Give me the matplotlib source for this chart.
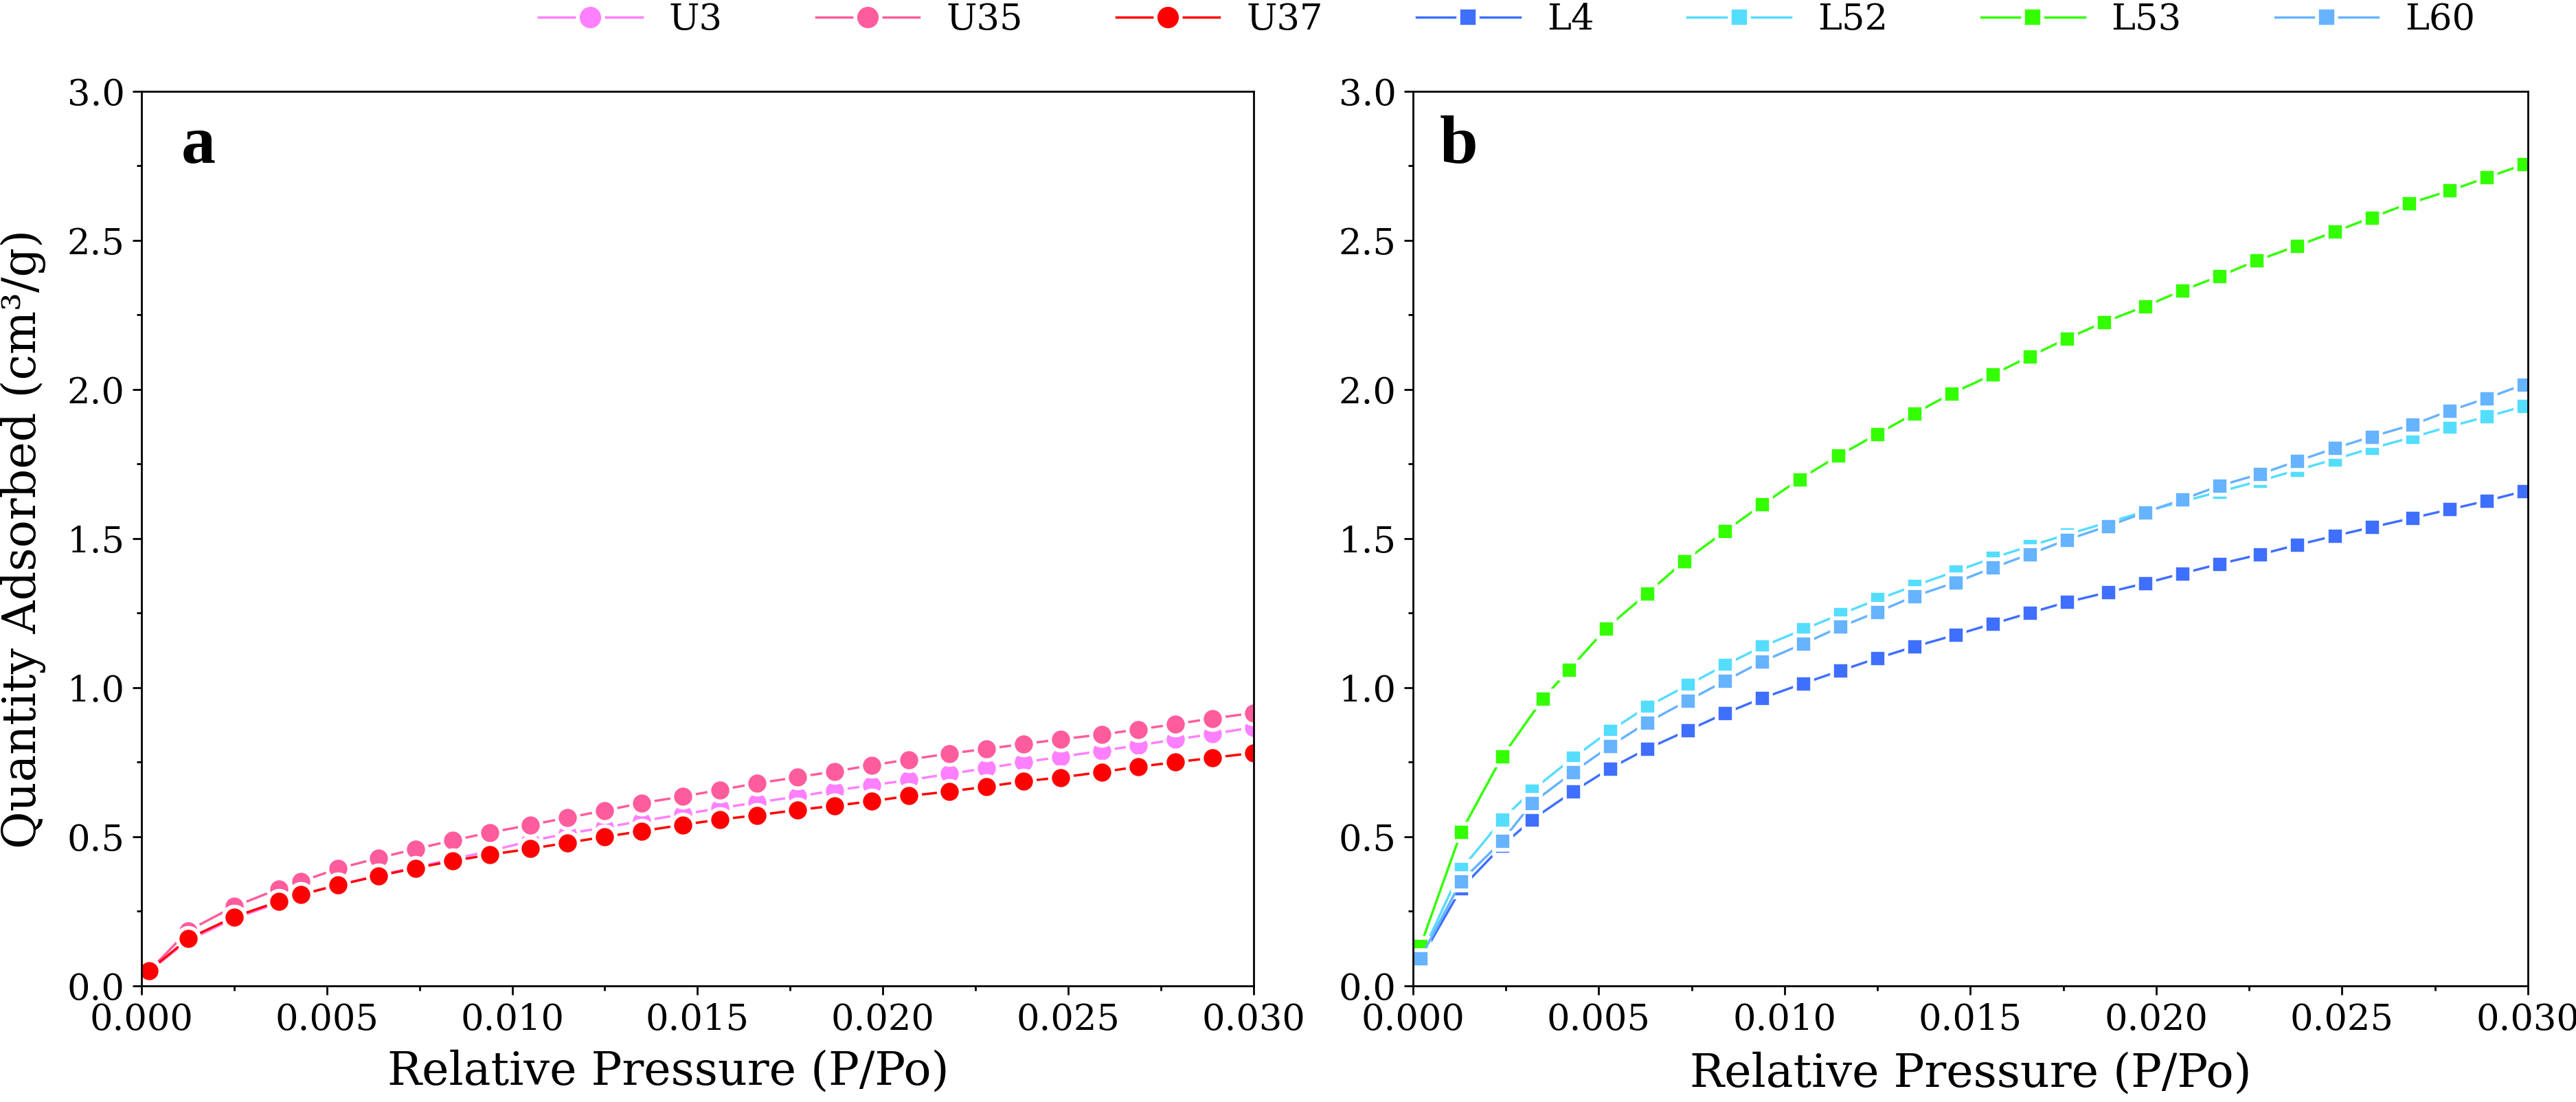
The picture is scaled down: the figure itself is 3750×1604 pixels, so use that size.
import matplotlib
matplotlib.use("Agg")
import matplotlib.pyplot as plt
from matplotlib.ticker import MultipleLocator, FormatStrFormatter

plt.rcParams["font.family"] = ["DejaVu Serif"]

# panel a: relative pressure and adsorbed quantity (cm3/g)
x_a = [0.0002, 0.00126, 0.0025, 0.0037, 0.0043, 0.0053, 0.0064, 0.0074, 0.0084, 0.0094,
       0.0105, 0.0115, 0.0125, 0.0135, 0.0146, 0.0156, 0.0166, 0.0177, 0.0187, 0.0197,
       0.0207, 0.0218, 0.0228, 0.0238, 0.0248, 0.0259, 0.0269, 0.0279, 0.0289, 0.0300]
u3 = [0.049, 0.152, 0.226, 0.278, 0.305, 0.338, 0.371, 0.398, 0.425, 0.452,
      0.486, 0.511, 0.531, 0.553, 0.575, 0.596, 0.615, 0.635, 0.655, 0.673,
      0.690, 0.711, 0.730, 0.750, 0.768, 0.788, 0.807, 0.826, 0.845, 0.867]
u35 = [0.049, 0.185, 0.266, 0.325, 0.350, 0.393, 0.429, 0.459, 0.488, 0.514,
       0.540, 0.564, 0.588, 0.613, 0.635, 0.657, 0.679, 0.700, 0.719, 0.740,
       0.759, 0.779, 0.795, 0.811, 0.827, 0.843, 0.860, 0.878, 0.897, 0.915]
u37 = [0.050, 0.158, 0.231, 0.283, 0.306, 0.338, 0.369, 0.395, 0.419, 0.440,
       0.460, 0.480, 0.500, 0.519, 0.540, 0.558, 0.572, 0.590, 0.604, 0.619,
       0.637, 0.652, 0.668, 0.686, 0.699, 0.717, 0.735, 0.750, 0.765, 0.781]

# panel b
x_b = [0.0002, 0.0013, 0.0024, 0.0032, 0.0043, 0.0053, 0.0063, 0.0074, 0.0084, 0.0094,
       0.0105, 0.0115, 0.0125, 0.0135, 0.0146, 0.0156, 0.0166, 0.0176, 0.0187, 0.0197,
       0.0207, 0.0217, 0.0228, 0.0238, 0.0248, 0.0258, 0.0269, 0.0279, 0.0289, 0.0299]
x_l53 = [0.0002, 0.0013, 0.0024, 0.0035, 0.0042, 0.0052, 0.0063, 0.0073, 0.0084, 0.0094,
         0.0104, 0.01145, 0.0125, 0.0135, 0.0145, 0.0156, 0.0166, 0.0176, 0.0186, 0.0197,
         0.0207, 0.0217, 0.0227, 0.0238, 0.0248, 0.0258, 0.0268, 0.0279, 0.0289, 0.0299]
l4 = [0.088, 0.327, 0.470, 0.557, 0.651, 0.729, 0.795, 0.857, 0.914, 0.965,
      1.014, 1.057, 1.099, 1.138, 1.177, 1.214, 1.251, 1.287, 1.320, 1.350,
      1.383, 1.415, 1.447, 1.479, 1.509, 1.538, 1.569, 1.598, 1.627, 1.659]
l52 = [0.097, 0.391, 0.557, 0.655, 0.764, 0.855, 0.936, 1.009, 1.076, 1.138,
       1.195, 1.246, 1.296, 1.342, 1.390, 1.435, 1.475, 1.514, 1.554, 1.591,
       1.624, 1.657, 1.694, 1.730, 1.766, 1.803, 1.840, 1.876, 1.909, 1.944]
l53 = [0.133, 0.517, 0.769, 0.963, 1.060, 1.199, 1.316, 1.424, 1.525, 1.614,
       1.699, 1.778, 1.851, 1.920, 1.987, 2.050, 2.111, 2.171, 2.226, 2.279,
       2.332, 2.380, 2.432, 2.482, 2.529, 2.577, 2.624, 2.667, 2.711, 2.755]
l60 = [0.093, 0.351, 0.486, 0.612, 0.716, 0.804, 0.883, 0.957, 1.023, 1.088,
       1.147, 1.204, 1.254, 1.307, 1.353, 1.402, 1.448, 1.496, 1.542, 1.588,
       1.631, 1.677, 1.717, 1.760, 1.803, 1.842, 1.882, 1.929, 1.971, 2.017]

fig = plt.figure(figsize=(37.5, 16.04), dpi=100)
ax_a = fig.add_axes([0.0549, 0.1054, 0.4317, 0.8117])
ax_b = fig.add_axes([0.5485, 0.1054, 0.4328, 0.8117])

line_kw = dict(lw=2.5, mec="white", mew=4.0)

h = []
h += ax_a.plot(x_a, u3, "-o", color="#ff80ff", ms=23, label="U3", **line_kw)
h += ax_a.plot(x_a, u35, "-o", color="#ff5c9d", ms=23, label="U35", **line_kw)
h += ax_a.plot(x_a, u37, "-o", color="#ff0000", ms=23, label="U37", **line_kw)
h += ax_b.plot(x_b, l4, "-s", color="#3f6fff", ms=18, label="L4", **line_kw)
h += ax_b.plot(x_b, l52, "-s", color="#55ddff", ms=18, label="L52", **line_kw)
h += ax_b.plot(x_l53, l53, "-s", color="#33ff00", ms=18, label="L53", **line_kw)
h += ax_b.plot(x_b, l60, "-s", color="#66b3ff", ms=18, label="L60", **line_kw)

for ax in (ax_a, ax_b):
    ax.set_xlim(0, 0.03)
    ax.set_ylim(0, 3.0)
    ax.xaxis.set_major_locator(MultipleLocator(0.005))
    ax.xaxis.set_minor_locator(MultipleLocator(0.0025))
    ax.yaxis.set_major_locator(MultipleLocator(0.5))
    ax.yaxis.set_minor_locator(MultipleLocator(0.25))
    ax.xaxis.set_major_formatter(FormatStrFormatter("%.3f"))
    ax.yaxis.set_major_formatter(FormatStrFormatter("%.1f"))
    ax.tick_params(which="major", direction="out", length=9.5, width=2, labelsize=38, pad=8)
    ax.tick_params(which="minor", direction="out", length=5, width=2)
    for s in ax.spines.values():
        s.set_linewidth(2)
    ax.set_xlabel("Relative Pressure (P/Po)", fontsize=48)

ax_a.xaxis.set_label_coords(0.474, -0.071)
ax_b.xaxis.set_label_coords(0.5, -0.073)

ax_a.set_ylabel("Quantity Adsorbed (cm³/g)", fontsize=48)
ax_a.yaxis.set_label_coords(-0.086, 0.5)

ax_a.text(0.036, 0.92, "a", transform=ax_a.transAxes, fontsize=72,
          family=["Liberation Serif", "DejaVu Serif"], fontweight="bold", va="baseline")
ax_b.text(0.024, 0.92, "b", transform=ax_b.transAxes, fontsize=72,
          family=["Liberation Serif", "DejaVu Serif"], fontweight="bold", va="baseline")

fig.legend(handles=h, loc="center", bbox_to_anchor=(0.585, 0.982), ncol=7,
           frameon=False, fontsize=38, handlelength=2.85, handletextpad=0.74,
           columnspacing=2.58, markerscale=1.15)

fig.savefig("out.png", dpi=100)
